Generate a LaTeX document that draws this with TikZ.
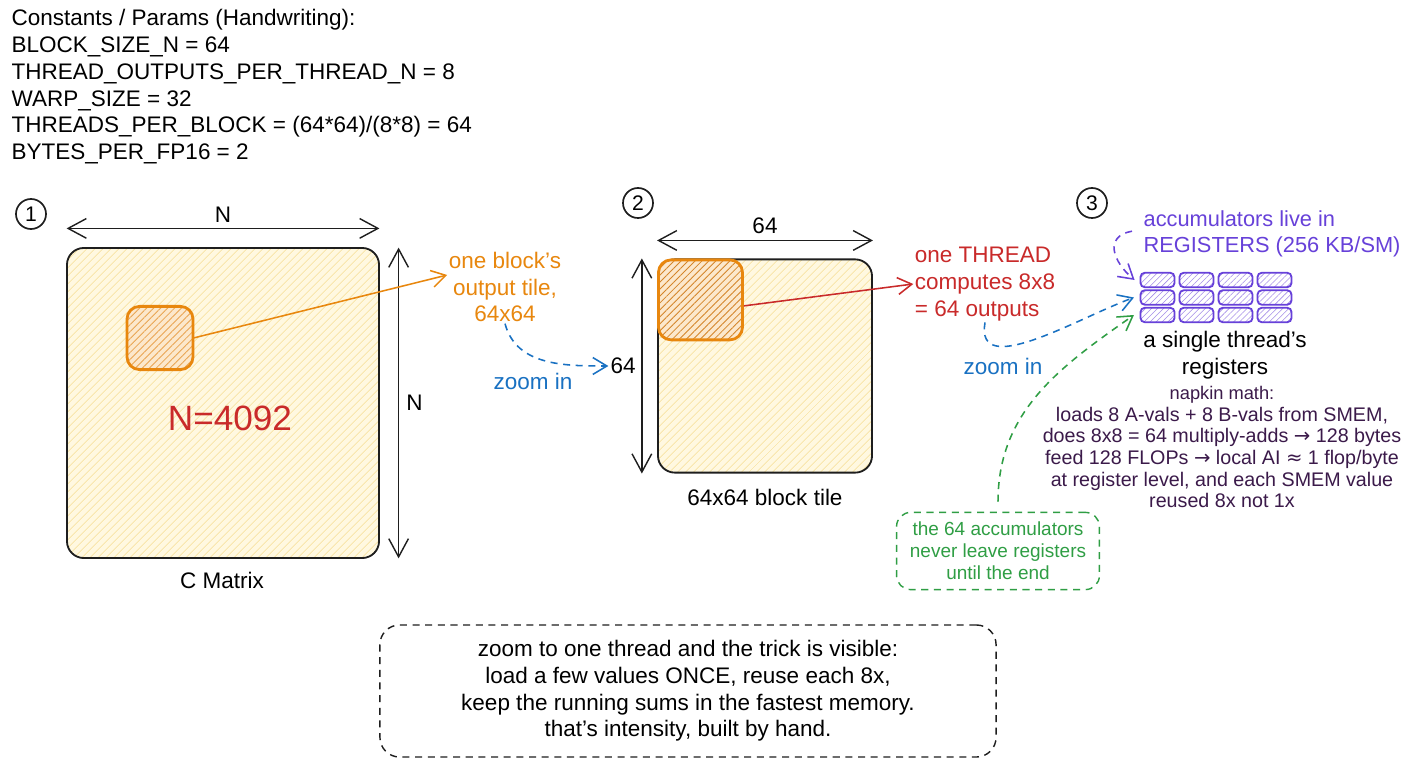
\documentclass[tikz,border=0pt]{standalone}
\usepackage{fontspec}
\setmainfont{Liberation Sans}
\newfontfamily\symfont{DejaVu Sans}
\usetikzlibrary{arrows.meta,patterns.meta,positioning}

\definecolor{inkblack}{HTML}{1E1E1E}
\definecolor{inkorange}{HTML}{E8870E}
\definecolor{inkred}{HTML}{C92A2A}
\definecolor{inkblue}{HTML}{1971C2}
\definecolor{inkgreen}{HTML}{2F9E44}
\definecolor{inkviolet}{HTML}{6741D9}
\definecolor{inkplum}{HTML}{3B1A4A}
\definecolor{tilefill}{HTML}{FFF8E0}
\definecolor{hatchyellow}{HTML}{F6DE95}
\definecolor{orangefill}{HTML}{FCE8CC}
\definecolor{hatchorange}{HTML}{E9A552}
\definecolor{hatchdark}{HTML}{D4852A}

\begin{document}
\begin{tikzpicture}[
    x=0.025cm, y=-0.025cm,
    hand/.style={font=\fontsize{16}{19}\selectfont, align=center, inner sep=1pt},
    small/.style={font=\fontsize{14}{15.4}\selectfont, align=center, inner sep=1pt},
    dim/.style={{Straight Barb[length=13pt,width=14pt]}-{Straight Barb[length=13pt,width=14pt]}, line width=1pt, draw=inkblack},
    pointer/.style={-{Straight Barb[length=10pt,width=12pt]}, line width=1.1pt},
    zoomarrow/.style={pointer, dash pattern=on 5pt off 4pt},
    matbox/.style={draw=inkblack, line width=1.3pt, rounded corners=12pt, preaction={fill=tilefill}, pattern={Lines[angle=45,distance=4pt,line width=0.5pt]}, pattern color=hatchyellow},
    tilebox/.style={draw=inkorange, line width=2pt, rounded corners=9pt, inner sep=0pt, preaction={fill=orangefill}, pattern={Lines[angle=45,distance=3.5pt,line width=0.6pt]}, pattern color=hatchorange},
    regcell/.style={draw=inkviolet, line width=1.3pt, rounded corners=3pt, minimum width=0.85cm, minimum height=0.36cm, inner sep=0pt, preaction={fill=white}, pattern={Lines[angle=45,distance=3pt,line width=0.4pt]}, pattern color=inkviolet!60},
    stepnum/.style={circle, draw=inkblack, line width=1.2pt, minimum size=0.75cm, inner sep=0pt, font=\fontsize{15}{15}\selectfont},
    notebox/.style={draw, dash pattern=on 5pt off 4pt, rounded corners=10pt, line width=1pt, align=center}
]
    \fill[white] (0,0) rectangle (1408,768);
    \useasboundingbox (0,0) rectangle (1408,768);

    \node[hand, align=left, anchor=north west] (params) at (10,8) {Constants / Params (Handwriting):\\BLOCK\_SIZE\_N = 64\\THREAD\_OUTPUTS\_PER\_THREAD\_N = 8\\WARP\_SIZE = 32\\THREADS\_PER\_BLOCK = (64*64)/(8*8) = 64\\BYTES\_PER\_FP16 = 2};

    \node[stepnum] (s1) at (31,214) {1};
    \node[stepnum] (s2) at (638,203) {2};
    \node[stepnum] (s3) at (1092,203) {3};

    % C matrix
    \node[matbox, minimum width=7.8cm, minimum height=7.75cm] (cmat) at (223,403) {};
    \node[tilebox, minimum width=1.65cm, minimum height=1.58cm] (ctile) at (160,338) {};
    \node[font=\fontsize{25}{25}\selectfont, text=inkred] (nval) at (230,418) {N=4092};
    \node[hand] (cname) at (222,580) {C Matrix};
    \draw[dim] ([yshift=0.48cm]cmat.north west) -- ([yshift=0.48cm]cmat.north east) node[midway, above=3pt, hand] {N};
    \draw[dim] ([xshift=0.48cm]cmat.north east) -- ([xshift=0.48cm]cmat.south east) node[midway, right=4pt, hand] {N};

    \node[hand, text=inkorange] (blocklbl) at (505,287) {one block's\\output tile,\\64x64};
    \draw[pointer, draw=inkorange] (ctile.east) -- ([yshift=0.3cm]blocklbl.west);

    % block tile
    \node[matbox, minimum width=5.35cm, minimum height=5.33cm] (btile) at (765,366) {};
    \node[tilebox, anchor=north west, minimum width=2.1cm, minimum height=2.0cm, pattern color=hatchdark] (ttile) at (btile.north west) {};
    \draw[dim] ([yshift=0.45cm]btile.north west) -- ([yshift=0.45cm]btile.north east) node[midway, above=3pt, hand] {64};
    \draw[dim] ([xshift=-0.38cm]btile.north west) -- ([xshift=-0.38cm]btile.south west) node[midway, left=3pt, hand] (len64) {64};
    \node[hand] (bname) at (765,497) {64x64 block tile};

    \draw[zoomarrow, draw=inkblue] (blocklbl.south) to[out=-75, in=180] (len64.west);
    \node[hand, text=inkblue] (zoomA) at (533,381) {zoom in};

    \node[hand, align=left, text=inkred] (threadlbl) at (985,284) {one THREAD\\computes 8x8\\= 64 outputs};
    \draw[pointer, draw=inkred] ([yshift=-0.15cm]ttile.east) -- (threadlbl.west);

    % registers
    \foreach \c in {0,...,3}
        \foreach \r in {0,1,2}
            \node[regcell] (reg\r\c) at (1157.5+39*\c, 280+17.5*\r) {};

    \node[hand, font=\fontsize{15.5}{19}\selectfont, align=left, anchor=west, text=inkviolet] (acclbl) at (1142,234) {accumulators live in\\REGISTERS (256 KB/SM)};
    \draw[zoomarrow, draw=inkviolet] ([xshift=-0.25cm, yshift=2pt]acclbl.west) to[out=190, in=140, looseness=1.5] ([xshift=-4pt]reg00.west);

    \draw[zoomarrow, draw=inkblue] (threadlbl.south) to[out=-100, in=200] ([xshift=-4pt]reg10.west);
    \node[hand, text=inkblue] (zoomB) at (1003,366) {zoom in};

    \node[hand] (reglbl) at (1225,355) {a single thread's\\registers};
    \node[small, text=inkplum] (napkin) at (1222,447) {{\fontsize{13}{15.4}\selectfont napkin math:}\\loads 8 A-vals + 8 B-vals from SMEM,\\does 8x8 = 64 multiply-adds {\symfont →} 128 bytes\\feed 128 FLOPs {\symfont →} local AI {\symfont ≈} 1 flop/byte\\at register level, and each SMEM value\\reused 8x not 1x};

    \node[notebox, draw=inkgreen, text=inkgreen, font=\fontsize{13.5}{15.6}\selectfont, minimum width=5.07cm, minimum height=1.93cm] (accbox) at (998,551) {the 64 accumulators\\never leave registers\\until the end};
    \draw[zoomarrow, draw=inkgreen] ([yshift=0.25cm]accbox.north) to[out=90, in=215] ([xshift=-4pt]reg20.west);

    \node[notebox, hand, draw=inkblack, minimum width=15.4cm, minimum height=3.3cm, rounded corners=14pt] (summary) at (688,691) {zoom to one thread and the trick is visible:\\load a few values ONCE, reuse each 8x,\\keep the running sums in the fastest memory.\\that's intensity, built by hand.};
\end{tikzpicture}
\end{document}
